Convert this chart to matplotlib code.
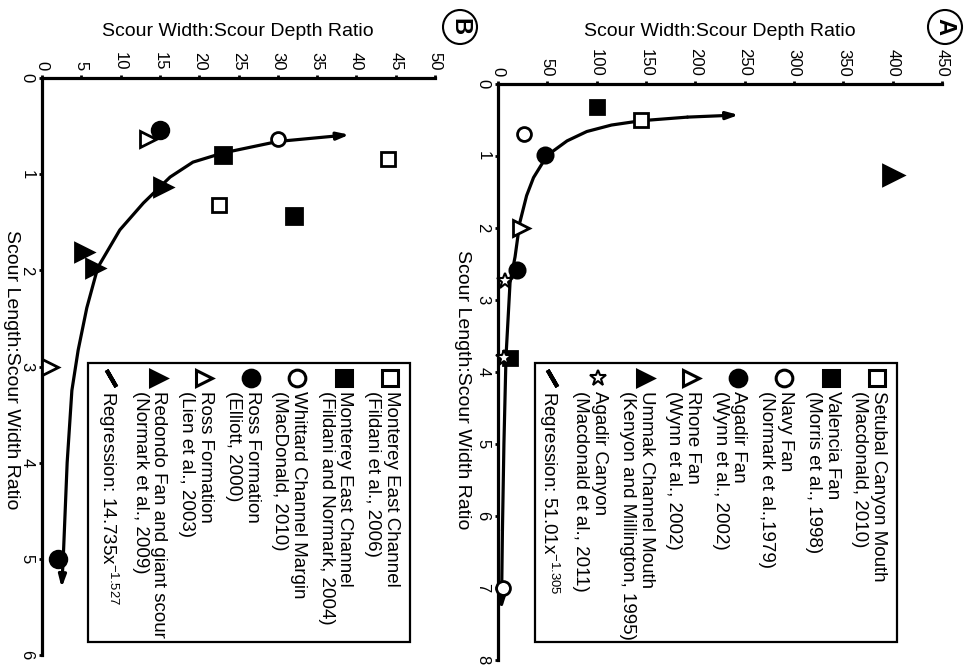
import matplotlib.pyplot as plt
from matplotlib.patches import Rectangle, Circle

plt.rcParams['font.family'] = ['Liberation Sans', 'DejaVu Sans']

# ---- Panel A data (width:depth ratio, length:width ratio) ----
setubal_wd = [145]
setubal_lw = [0.5]
valencia_wd = [100, 12]
valencia_lw = [0.32, 3.8]
navy_wd = [26, 5]
navy_lw = [0.69, 7.0]
agadir_fan_wd = [48, 19]
agadir_fan_lw = [0.99, 2.58]
rhone_wd = [23]
rhone_lw = [2.0]
ummak_wd = [400]
ummak_lw = [1.26]
agadir_can_wd = [7, 6]
agadir_can_lw = [2.74, 3.8]
reg_a_wd = [244, 192, 145, 115, 90, 70, 56, 45, 36, 29, 22, 17.3, 12.2, 8.1, 6.0, 4.5, 3.5]
reg_a_lw = [0.43, 0.46, 0.51, 0.57, 0.66, 0.79, 0.93, 1.1, 1.3, 1.55, 1.93, 2.4, 2.76, 3.79,
            5.0, 6.2, 7.3]

# ---- Panel B data ----
mec06_wd = [44, 22.5]
mec06_lw = [0.84, 1.32]
mec04_wd = [23, 32]
mec04_lw = [0.80, 1.43]
whittard_wd = [30]
whittard_lw = [0.63]
ross_e_wd = [15, 2]
ross_e_lw = [0.54, 5.0]
ross_l_wd = [13.5, 1]
ross_l_lw = [0.63, 3.0]
redondo_wd = [15.4, 5.3, 6.7]
redondo_lw = [1.13, 1.81, 1.98]
reg_b_wd = [39.1, 30.0, 23.0, 19.2, 16.3, 12.9, 9.9, 7.1, 5.7, 4.6, 3.8, 3.2, 2.7, 2.5]
reg_b_lw = [0.59, 0.66, 0.78, 0.875, 1.03, 1.30, 1.58, 1.97, 2.39, 2.83, 3.25, 4.0, 5.0, 5.3]

legend_a = [
    ('s', 'white', 'Setubal Canyon Mouth\n(Macdonald, 2010)'),
    ('s', 'black', 'Valencia Fan\n(Morris et al., 1998)'),
    ('o', 'white', 'Navy Fan\n(Normark et al.,1979)'),
    ('o', 'black', 'Agadir Fan\n(Wynn et al., 2002)'),
    ('>', 'white', 'Rhone Fan\n(Wynn et al., 2002)'),
    ('>', 'black', 'Ummak Channel Mouth\n(Kenyon and Millington, 1995)'),
    ('*', 'white', 'Agadir Canyon\n(Macdonald et al., 2011)'),
    ('line', 'black', r'Regression: 51.01x$^{\mathregular{-1.305}}$'),
]
legend_b = [
    ('s', 'white', 'Monterey East Channel\n(Fildani et al., 2006)'),
    ('s', 'black', 'Monterey East Channel\n(Fildani and Normark, 2004)'),
    ('o', 'white', 'Whittard Channel Margin\n(MacDonald, 2010)'),
    ('o', 'black', 'Ross Formation\n(Elliott, 2000)'),
    ('>', 'white', 'Ross Formation\n(Lien et al., 2003)'),
    ('>', 'black', 'Redondo Fan and giant scour\n(Normark et al., 2009)'),
    ('line', 'black', r'Regression: 14.735x$^{\mathregular{-1.527}}$'),
]

W, H = 964, 671
fig = plt.figure(figsize=(W / 100, H / 100), dpi=100)


def make_axes(x0, x1, y0, y1, xmax, ymax, xstep):
    ax = fig.add_axes([x0 / W, 1 - y1 / H, (x1 - x0) / W, (y1 - y0) / H])
    ax.set_xlim(0, xmax)
    ax.set_ylim(ymax, 0)
    ax.set_xticks(range(0, xmax + 1, xstep))
    ax.set_yticks(range(0, ymax + 1))
    ax.xaxis.tick_top()
    for s in ['right', 'bottom']:
        ax.spines[s].set_visible(False)
    for s in ['top', 'left']:
        ax.spines[s].set_linewidth(2.3)
    ax.tick_params(length=2.5, width=2, labelsize=12, labelrotation=270, pad=3)
    for lbl in ax.get_yticklabels():
        lbl.set_va('center')
    ax.patch.set_alpha(0)
    return ax


def pts(ax, wd, lw_, mk, fc, ms, mew=2):
    ax.plot(wd, lw_, ls='none', marker=mk, ms=ms, mfc=fc, mec='black', mew=mew,
            zorder=4, clip_on=False)


def regression(ax, wd, lw_):
    ax.plot(wd[1:-1], lw_[1:-1], color='black', lw=2.3, zorder=3, solid_capstyle='round',
            solid_joinstyle='round')
    arrow = dict(arrowstyle='-|>,head_length=0.7,head_width=0.22', color='black', lw=2.3,
                 shrinkA=0, shrinkB=0)
    ax.annotate('', xy=(wd[0], lw_[0]), xytext=(wd[1], lw_[1]), arrowprops=arrow, zorder=3)
    ax.annotate('', xy=(wd[-1], lw_[-1]), xytext=(wd[-2], lw_[-2]), arrowprops=arrow, zorder=3)


# panel A
axa = make_axes(498, 942, 84, 660, 450, 8, 50)
regression(axa, reg_a_wd, reg_a_lw)
pts(axa, setubal_wd, setubal_lw, 's', 'white', 10)
pts(axa, valencia_wd, valencia_lw, 's', 'black', 10)
pts(axa, navy_wd, navy_lw, 'o', 'white', 10)
pts(axa, agadir_fan_wd, agadir_fan_lw, 'o', 'black', 11)
pts(axa, rhone_wd, rhone_lw, '>', 'white', 12)
pts(axa, ummak_wd, ummak_lw, '>', 'black', 14)
pts(axa, agadir_can_wd, agadir_can_lw, '*', 'white', 12, mew=1.5)

# panel B
axb = make_axes(42, 435, 78, 655, 50, 6, 5)
regression(axb, reg_b_wd, reg_b_lw)
pts(axb, mec06_wd, mec06_lw, 's', 'white', 10)
pts(axb, mec04_wd, mec04_lw, 's', 'black', 11)
pts(axb, whittard_wd, whittard_lw, 'o', 'white', 10)
pts(axb, ross_e_wd, ross_e_lw, 'o', 'black', 12)
pts(axb, ross_l_wd, ross_l_lw, '>', 'white', 12)
pts(axb, redondo_wd, redondo_lw, '>', 'black', 13)

# overlay for titles and legends, in pixel units
ov = fig.add_axes([0, 0, 1, 1])
ov.set_xlim(0, W)
ov.set_ylim(H, 0)
ov.axis('off')


def legend(left, right, top, bottom, entries):
    ov.add_patch(Rectangle((left, top), right - left, bottom - top, fill=False,
                           lw=1.6, ec='black'))
    for i, (mk, fc, label) in enumerate(entries):
        x = right - 20 - i * 46.5
        if mk == 'line':
            ov.plot([x], [top + 15], ls='none', marker=(2, 2, 30), ms=14, mec='black', mew=3)
        else:
            ov.plot([x], [top + 15], ls='none', marker=mk, ms=12, mfc=fc, mec='black',
                    mew=1.5 if mk == '*' else 2.2)
        ov.text(x + 10, top + 28, label, rotation=270, rotation_mode='anchor', ha='left',
                va='top', fontsize=13.5, linespacing=1.12)


legend(535, 897, 363, 642, legend_a)
legend(88, 410, 363, 642, legend_b)

ov.text(720, 31, 'Scour Width:Scour Depth Ratio', ha='center', va='center', fontsize=14)
ov.text(238, 31, 'Scour Width:Scour Depth Ratio', ha='center', va='center', fontsize=14)
ov.text(463, 390, 'Scour Length:Scour Width Ratio', ha='center', va='center', fontsize=14,
        rotation=270)
ov.text(11, 370, 'Scour Length:Scour Width Ratio', ha='center', va='center', fontsize=14,
        rotation=270)

for cx, letter in [(945, 'A'), (460, 'B')]:
    ov.add_patch(Circle((cx, 27), 17, fill=False, lw=1.5, ec='black'))
    ov.text(cx, 27, letter, rotation=270, ha='center', va='center', fontsize=17,
            fontweight='bold')

fig.savefig('out.png', dpi=100)
